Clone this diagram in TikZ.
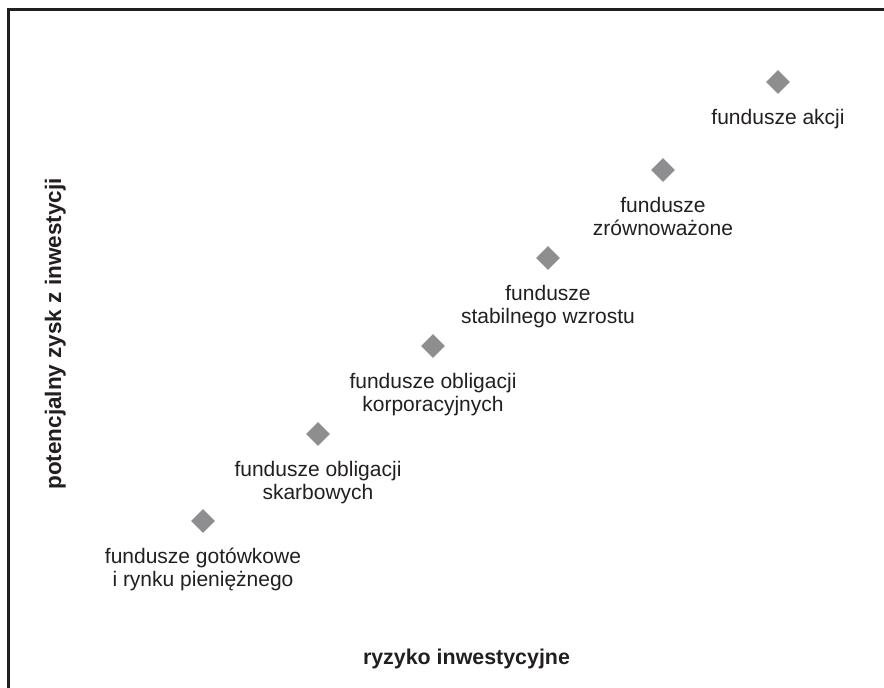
\documentclass[tikz,border=0pt]{standalone}
\usepackage{fontspec}
\setmainfont{Liberation Sans}
\usetikzlibrary{shapes.geometric,positioning}
\definecolor{inkc}{HTML}{231F20}
\definecolor{dgray}{HTML}{8E8E91}
\tikzset{
  pt/.style={diamond, fill=dgray, draw=none, minimum size=24pt, inner sep=0pt},
  lbl/.style={inner sep=0pt, align=center, text=inkc, font=\fontsize{21}{22.5}\selectfont},
  axlbl/.style={inner sep=0pt, text=inkc, font=\fontsize{21.4}{24}\selectfont\bfseries},
}
\begin{document}
\begin{tikzpicture}[x=1pt,y=-1pt]
\useasboundingbox (0,0) rectangle (884,688);
\clip (0,0) rectangle (884,688);
\fill[white] (0,0) rectangle (884,688);
\draw[inkc, line width=3pt] (8.5,9.5) rectangle (1000,800);

\node[pt] (d1) at (203,521) {};
\node[pt] (d2) at (318,434) {};
\node[pt] (d3) at (433,346) {};
\node[pt] (d4) at (548,258) {};
\node[pt] (d5) at (663,170) {};
\node[pt] (d6) at (778,82) {};

\node[lbl, below=15pt of d1] (l1) {fundusze gotówkowe\\i rynku pieniężnego};
\node[lbl, below=15pt of d2] (l2) {fundusze obligacji\\skarbowych};
\node[lbl, below=15pt of d3] (l3) {fundusze obligacji\\korporacyjnych};
\node[lbl, below=15pt of d4] (l4) {fundusze\\stabilnego wzrostu};
\node[lbl, below=15pt of d5] (l5) {fundusze\\zrównoważone};
\node[lbl, below=15pt of d6] (l6) {fundusze akcji};

\node[axlbl, anchor=base] (xl) at (466.5,664) {ryzyko inwestycyjne};
\node[axlbl, anchor=base, rotate=90, font=\fontsize{22.5}{24}\selectfont\bfseries] (yl) at (61,334) {potencjalny zysk z inwestycji};
\end{tikzpicture}
\end{document}
